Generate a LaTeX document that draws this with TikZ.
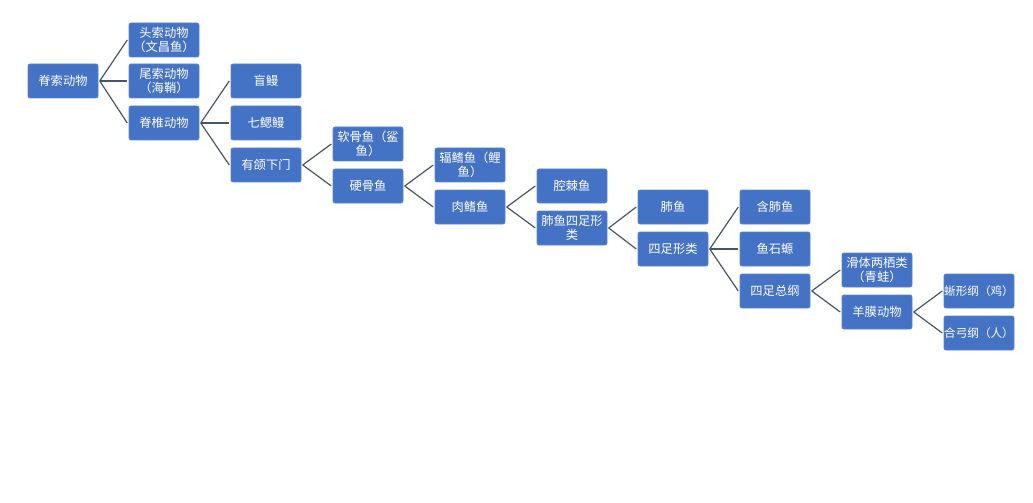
\documentclass[tikz,border=0pt]{standalone}
\usepackage{fontspec}
\setmainfont{Noto Sans CJK SC}
\begin{document}
\begin{tikzpicture}[x=0.75pt,y=-0.75pt,
  box/.style={fill=boxblue,draw=boxedge,line width=0.6pt,rounded corners=1.5pt,minimum width=52.5pt,minimum height=25.5pt,inner sep=0.5pt,align=center,text=white,font=\fontsize{9.2pt}{10.5pt}\selectfont},
  tight/.style={inner xsep=0pt,font=\fontsize{8.7pt}{10.5pt}\selectfont},
  conn/.style={draw=linegray,line width=0.9pt}]
\definecolor{boxblue}{HTML}{4472C4}
\definecolor{boxedge}{HTML}{5A86D0}
\definecolor{linegray}{HTML}{4A5566}
\useasboundingbox (0,0) rectangle (1033,503);
\fill[white] (0,0) rectangle (1033,503);
\node[box] (a) at (63,81) {脊索动物};
\node[box] (b1) at (164,40) {头索动物\\（文昌鱼）};
\node[box] (b2) at (164,81) {尾索动物\\（海鞘）};
\node[box] (b3) at (164,123) {脊椎动物};
\node[box] (c1) at (266,81) {盲鳗};
\node[box] (c2) at (266,123) {七鳃鳗};
\node[box] (c3) at (266,165) {有颌下门};
\node[box] (d1) at (368,144) {软骨鱼（鲨\\鱼）};
\node[box] (d2) at (368,186) {硬骨鱼};
\node[box] (e1) at (470,165) {辐鳍鱼（鲤\\鱼）};
\node[box] (e2) at (470,207) {肉鳍鱼};
\node[box] (f1) at (572,186) {腔棘鱼};
\node[box] (f2) at (572,228) {肺鱼四足形\\类};
\node[box] (g1) at (673,207) {肺鱼};
\node[box] (g2) at (673,249) {四足形类};
\node[box] (h1) at (775,207) {含肺鱼};
\node[box] (h2) at (775,249) {鱼石螈};
\node[box] (h3) at (775,291) {四足总纲};
\node[box] (i1) at (877,270) {滑体两栖类\\（青蛙）};
\node[box] (i2) at (877,312) {羊膜动物};
\node[box,tight] (j1) at (979,291) {蜥形纲（鸡）};
\node[box,tight] (j2) at (979,333) {合弓纲（人）};
\foreach \p/\c in {a/b1,a/b2,a/b3,b3/c1,b3/c2,b3/c3,c3/d1,c3/d2,d2/e1,d2/e2,e2/f1,e2/f2,f2/g1,f2/g2,g2/h1,g2/h2,g2/h3,h3/i1,h3/i2,i2/j1,i2/j2}
  \draw[conn] ([xshift=1]\p.east) -- ([xshift=-1]\c.west);
\end{tikzpicture}
\end{document}
